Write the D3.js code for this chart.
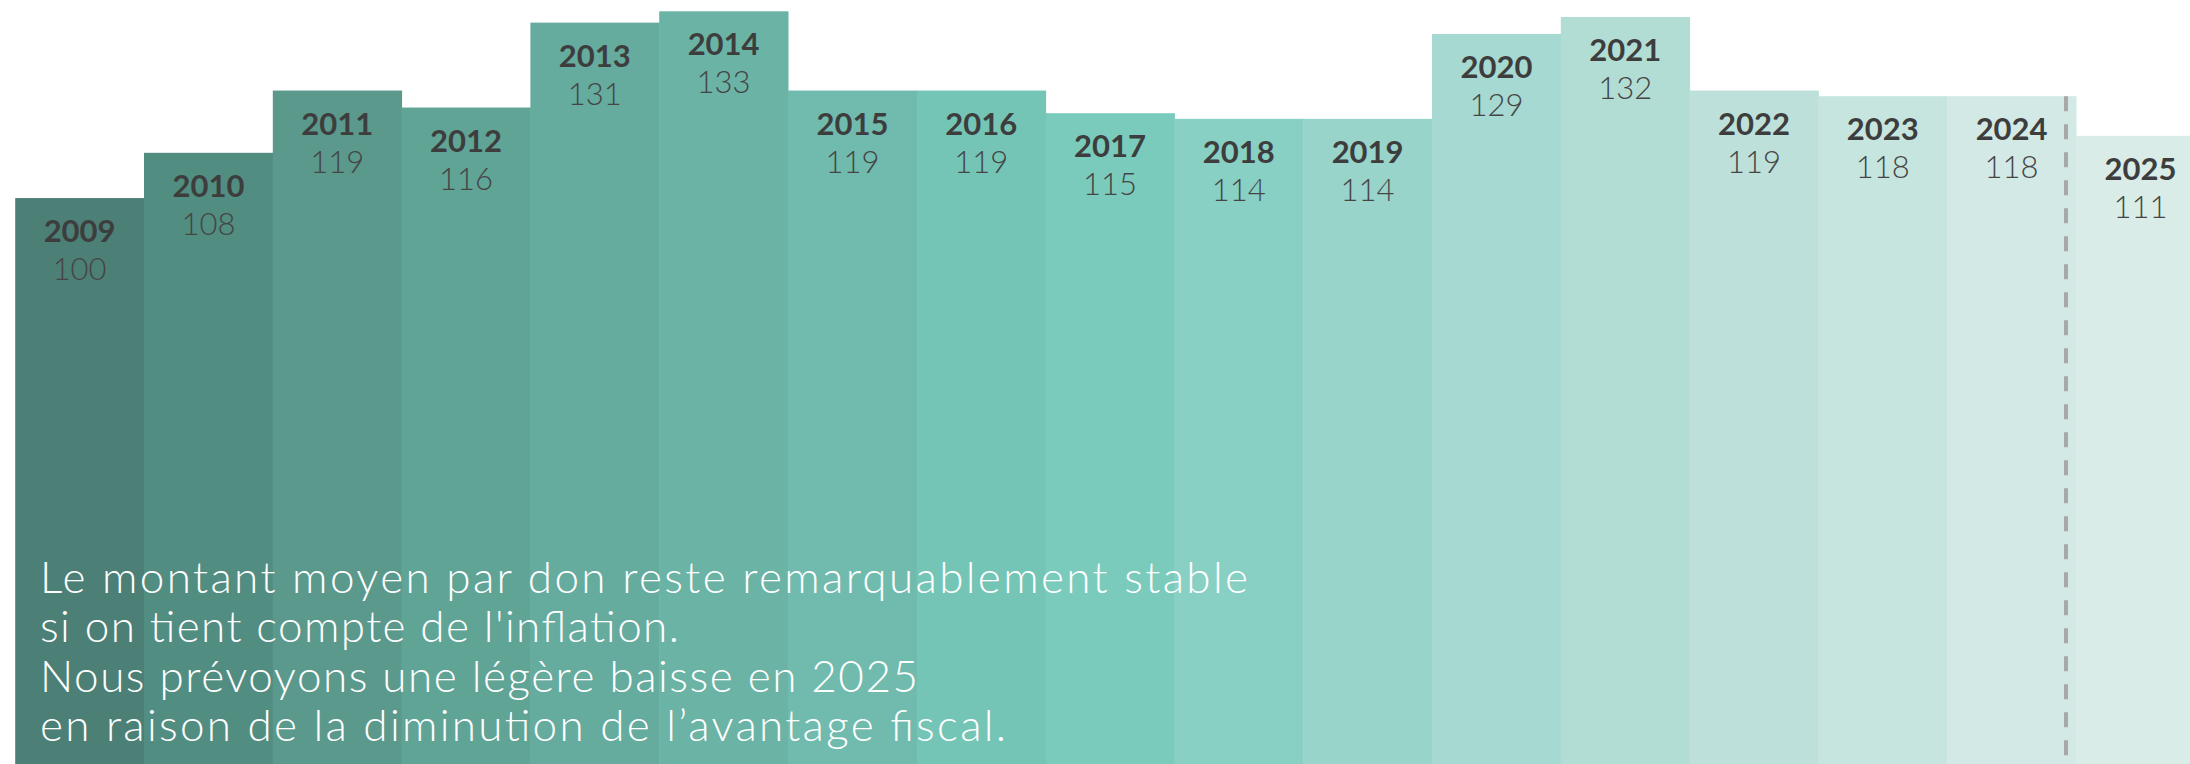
<!DOCTYPE html>
<html>
<head>
<meta charset="utf-8">
<script src="https://cdn.jsdelivr.net/npm/d3@7"></script>
<style>
  html, body { margin: 0; padding: 0; background: #fff; overflow: hidden; }
  svg { display: block; }
</style>
</head>
<body>
<div id="chart"></div>
<script>
// Average gift amount, index 2009 = 100
const years = ["2009", "2010", "2011", "2012", "2013", "2014", "2015", "2016", "2017",
  "2018", "2019", "2020", "2021", "2022", "2023", "2024", "2025"];
const amounts = [100, 108, 119, 116, 131, 133, 119, 119, 115, 114, 114, 129, 132, 119, 118, 118, 111];
const barColors = ["#4c7f75", "#528d82", "#5a998c", "#60a496", "#65ab9e", "#6ab3a5", "#70bbad",
  "#74c5b5", "#7acbbc", "#88d0c4", "#98d4ca", "#a6d9d1", "#b2ddd5", "#bde1da", "#c7e5df",
  "#d2e9e5", "#d9ece8"];
const forecastAfter = "2024";
const noteLines = [
  "Le montant moyen par don reste remarquablement stable",
  "si on tient compte de l'inflation.",
  "Nous prévoyons une légère baisse en 2025",
  "en raison de la diminution de l’avantage fiscal."
];

const width = 2190, height = 764;
const svg = d3.select("#chart").append("svg")
  .attr("width", width)
  .attr("height", height);

// bands run past the right edge, the last bar is cut like in the original
const xScale = d3.scaleBand()
  .domain(years)
  .range([15.2, 15.2 + 128.8 * years.length])
  .padding(0);

const yScale = d3.scaleLinear()
  .domain([0, 135])
  .range([height, 0]);

const data = years.map((y, i) => ({year: y, amount: amounts[i], color: barColors[i]}));

// bars
svg.append("g").selectAll("rect")
  .data(data)
  .join("rect")
  .attr("x", d => xScale(d.year))
  .attr("y", d => yScale(d.amount))
  .attr("width", xScale.bandwidth() + 0.5)
  .attr("height", d => height - yScale(d.amount))
  .attr("fill", d => d.color);

// dashed separator between actual and forecast
const lastActual = data.find(d => d.year === forecastAfter);
svg.append("line")
  .attr("x1", xScale(forecastAfter) + xScale.bandwidth() - 10)
  .attr("x2", xScale(forecastAfter) + xScale.bandwidth() - 10)
  .attr("y1", yScale(lastActual.amount))
  .attr("y2", height)
  .attr("stroke", "#a8a8a8")
  .attr("stroke-width", 4)
  .attr("stroke-dasharray", "15,13");

// year labels
const labels = svg.append("g").attr("text-anchor", "middle");
labels.selectAll("text.year")
  .data(data)
  .join("text")
  .attr("class", "year")
  .attr("x", d => xScale(d.year) + xScale.bandwidth() / 2)
  .attr("y", d => yScale(d.amount) + 44)
  .style("font-family", "Lato, 'Open Sans', sans-serif")
  .style("font-weight", 700)
  .style("font-size", "31px")
  .style("fill", "#3d3d3d")
  .text(d => d.year);

// value labels
labels.selectAll("text.value")
  .data(data)
  .join("text")
  .attr("class", "value")
  .attr("x", d => xScale(d.year) + xScale.bandwidth() / 2)
  .attr("y", d => yScale(d.amount) + 82)
  .style("font-family", "Lato, 'Open Sans', sans-serif")
  .style("font-weight", 300)
  .style("font-size", "31px")
  .style("fill", "#454545")
  .text(d => d3.format("d")(d.amount));

// note text over the bars
const noteEnds = [1248, 679, 918, 1006];
svg.append("g").selectAll("text")
  .data(noteLines)
  .join("text")
  .attr("x", 40)
  .attr("y", (d, i) => 593 + i * 49.3)
  .attr("textLength", (d, i) => noteEnds[i] - 40)
  .attr("lengthAdjust", "spacing")
  .style("font-family", "Lato, 'Open Sans', sans-serif")
  .style("font-weight", 300)
  .style("font-size", "44px")
  .style("fill", "#ffffff")
  .text(d => d);
</script>
</body>
</html>
